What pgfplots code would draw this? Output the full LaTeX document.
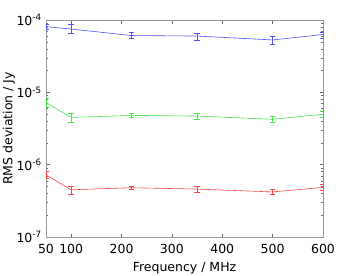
\documentclass[border=0pt]{standalone}
\usepackage{pgfplots}
\pgfplotsset{compat=1.18}
\usepackage{fontspec}
\setmainfont{DejaVu Sans}
\definecolor{cb}{RGB}{80,80,250}
\definecolor{cg}{RGB}{70,230,70}
\definecolor{cr}{RGB}{245,70,70}
\definecolor{fr}{RGB}{150,150,150}
\begin{document}
\fontsize{12.5bp}{14.5bp}\selectfont
\begin{tikzpicture}
\begin{axis}[
  name=ax,
  scale only axis,
  width=277bp, height=217bp,
  xmin=50, xmax=600,
  ymode=log, ymin=1e-7, ymax=1e-4,
  xtick={50,100,200,300,400,500,600},
  ytick={1e-7,1e-6,1e-5,1e-4},
  yticklabels={10\textsuperscript{-7},10\textsuperscript{-6},10\textsuperscript{-5},10\textsuperscript{-4}},
  /pgf/number format/assume math mode=true,
  tick align=inside,
  major tick length=3.5bp,
  minor tick length=2bp,
  axis line style={fr},
  every tick/.style={fr!70!black},
  tick label style={font=\fontsize{12.5bp}{14.5bp}\selectfont},
  xticklabel style={yshift=-3bp},
  label style={font=\fontsize{12.5bp}{14.5bp}\selectfont},
  xlabel={Frequency / MHz},
  ylabel={RMS deviation / Jy},
  xlabel style={yshift=0bp},
  ylabel style={yshift=-7bp},
  every axis plot/.append style={line width=0.6pt},
  error bars/error bar style={line width=0.6pt},
  error bars/error mark options={rotate=90, mark size=2.8bp, line width=0.6pt},
]
\addplot[cb, mark=none, error bars/.cd, y dir=both, y explicit] table[x=x, y=y, y error plus=ep, y error minus=em] {
x y ep em
50 8.1e-5 0.7e-5 0.7e-5
100 7.5e-5 1.3e-5 0.95e-5
220 6.1e-5 0.6e-5 0.6e-5
350 6.0e-5 0.5e-5 0.7e-5
500 5.3e-5 0.65e-5 0.7e-5
600 6.3e-5 0.5e-5 0.7e-5
};
\addplot[cg, mark=none, error bars/.cd, y dir=both, y explicit] table[x=x, y=y, y error plus=ep, y error minus=em] {
x y ep em
50 7.2e-6 1.0e-6 0.9e-6
100 4.5e-6 0.63e-6 0.62e-6
220 4.8e-6 0.33e-6 0.3e-6
350 4.7e-6 0.4e-6 0.4e-6
500 4.24e-6 0.46e-6 0.44e-6
600 4.97e-6 0.43e-6 0.47e-6
};
\addplot[cr, mark=none, error bars/.cd, y dir=both, y explicit] table[x=x, y=y, y error plus=ep, y error minus=em] {
x y ep em
50 7.2e-7 0.8e-7 0.8e-7
100 4.5e-7 0.5e-7 0.55e-7
220 4.8e-7 0.2e-7 0.3e-7
350 4.6e-7 0.4e-7 0.4e-7
500 4.2e-7 0.35e-7 0.3e-7
600 4.85e-7 0.45e-7 0.45e-7
};
\end{axis}
\pgfresetboundingbox
\path (ax.south west) ++(-46bp,-39bp) coordinate (bl);
\path (ax.north east) ++(34bp,20bp) coordinate (tr);
\path (bl) rectangle (tr);
\end{tikzpicture}
\end{document}
